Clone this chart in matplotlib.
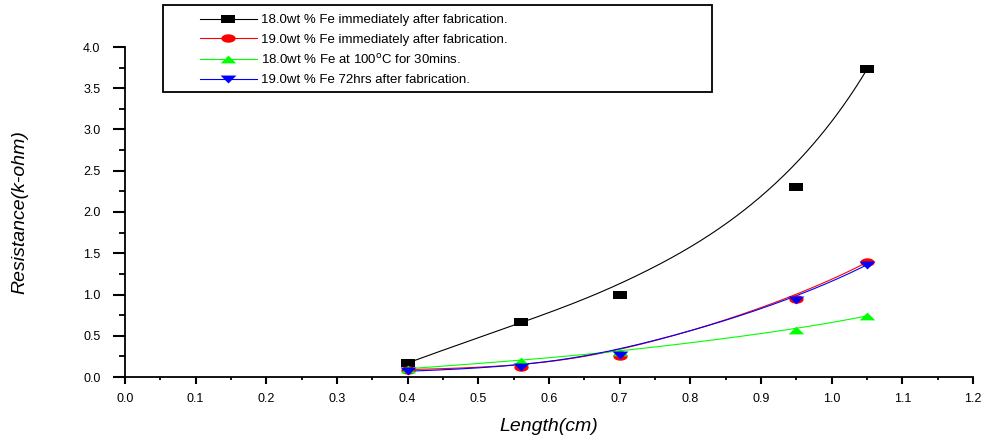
import numpy as np
import matplotlib
matplotlib.use("Agg")
import matplotlib.pyplot as plt
from matplotlib.path import Path
from matplotlib.patches import Rectangle
from matplotlib.ticker import MultipleLocator, FormatStrFormatter

plt.rcParams['font.family'] = ['Liberation Sans', 'DejaVu Sans']

# ---- data ----
length_cm = [0.40, 0.56, 0.70, 0.95, 1.05]
res_18_immediate = [0.17, 0.67, 1.00, 2.30, 3.73]
res_19_immediate = [0.09, 0.12, 0.25, 0.95, 1.39]
res_18_100C = [0.10, 0.20, 0.30, 0.57, 0.74]
res_19_72hrs = [0.07, 0.12, 0.27, 0.93, 1.36]

labels = [
    "18.0wt % Fe immediately after fabrication.",
    "19.0wt % Fe immediately after fabrication.",
    "18.0wt % Fe at 100$^{\\mathrm{o}}$C for 30mins.",
    "19.0wt % Fe 72hrs after fabrication.",
]
colors = ["#000000", "#ff0000", "#00ff00", "#0000ff"]
series = [res_18_immediate, res_19_immediate, res_18_100C, res_19_72hrs]


def bspline(xs, ys, n=300, k=3):
    P = np.column_stack([xs, ys]).astype(float)
    m = len(P)
    knots = np.concatenate([np.zeros(k), np.linspace(0, 1, m - k + 1), np.ones(k)])
    t = np.linspace(0, 1, n)
    N = np.zeros((n, len(knots) - 1))
    for i in range(len(knots) - 1):
        N[:, i] = (knots[i] <= t) & (t < knots[i + 1])
    N[t >= 1.0, m - 1] = 1.0
    for d in range(1, k + 1):
        Nn = np.zeros((n, len(knots) - 1 - d))
        for i in range(len(knots) - 1 - d):
            den1 = knots[i + d] - knots[i]
            den2 = knots[i + d + 1] - knots[i + 1]
            term = np.zeros(n)
            if den1 > 0:
                term += (t - knots[i]) / den1 * N[:, i]
            if den2 > 0:
                term += (knots[i + d + 1] - t) / den2 * N[:, i + 1]
            Nn[:, i] = term
        N = Nn
    C = N @ P
    return C[:, 0], C[:, 1]


# stretched marker shapes (wider than tall, as in the reference)
sq = Path([(-1.55, -1), (1.55, -1), (1.55, 1), (-1.55, 1), (-1.55, -1)],
          [Path.MOVETO, Path.LINETO, Path.LINETO, Path.LINETO, Path.CLOSEPOLY])
th = np.linspace(0, 2 * np.pi, 60)
ell = Path(np.column_stack([1.7 * np.cos(th), np.sin(th)]))
tri_up = Path([(-2, -1), (2, -1), (0, 1), (-2, -1)],
              [Path.MOVETO, Path.LINETO, Path.LINETO, Path.CLOSEPOLY])
tri_dn = Path([(-2, 1), (2, 1), (0, -1), (-2, 1)],
              [Path.MOVETO, Path.LINETO, Path.LINETO, Path.CLOSEPOLY])
markers = [sq, ell, tri_up, tri_dn]
msizes = [9.6, 10.3, 11.2, 11.4]

fig = plt.figure(figsize=(9.87, 4.40), dpi=100)
ax = fig.add_axes([125 / 987, 1 - 377 / 440, (973 - 125) / 987, (377 - 47) / 440])

handles = []
for ys, c, mk, ms, lab in zip(series, colors, markers, msizes, labels):
    cx, cy = bspline(length_cm, ys)
    ax.plot(cx, cy, color=c, lw=0.8, zorder=2)
    ax.plot(length_cm, ys, linestyle='none', marker=mk, markersize=ms,
            color=c, markeredgewidth=0, zorder=3)
    h, = ax.plot([], [], color=c, lw=0.8, marker=mk, markersize=ms,
                 markeredgewidth=0, label=lab)
    handles.append(h)

ax.set_xlim(0, 1.2)
ax.set_ylim(0, 4.0)
for s in ['top', 'right']:
    ax.spines[s].set_visible(False)
for s in ['left', 'bottom']:
    ax.spines[s].set_linewidth(1.3)

ax.xaxis.set_major_locator(MultipleLocator(0.1))
ax.xaxis.set_minor_locator(MultipleLocator(0.05))
ax.yaxis.set_major_locator(MultipleLocator(0.5))
ax.yaxis.set_minor_locator(MultipleLocator(0.25))
ax.xaxis.set_major_formatter(FormatStrFormatter('%.1f'))
ax.yaxis.set_major_formatter(FormatStrFormatter('%.1f'))
ax.tick_params(axis='x', which='major', direction='out', length=5, width=1.5,
               labelsize=9, pad=6.5)
ax.tick_params(axis='x', which='minor', direction='out', length=2.5, width=1.3)
ax.tick_params(axis='y', which='major', direction='out', length=8.6, width=1.5,
               labelsize=9, pad=9)
ax.tick_params(axis='y', which='minor', direction='out', length=4.3, width=1.3)

ax.set_xlabel("Length(cm)", fontsize=14, style='italic', va='center')
ax.set_ylabel("Resistance(k-ohm)", fontsize=14, style='italic', va='center')
ax.xaxis.set_label_coords(0.5, (377 - 426) / 330)
ax.yaxis.set_label_coords((20 - 125) / 848, 0.5)

# legend frame
fig.patches.append(Rectangle((163 / 987, 1 - 92 / 440), (712 - 163) / 987, 87 / 440,
                             transform=fig.transFigure, fill=False,
                             edgecolor='black', lw=1.3, zorder=5))
fig.legend(handles=handles, loc='upper left',
           bbox_to_anchor=(200 / 987, 1 - 14 / 440), frameon=False,
           fontsize=9.5, handlelength=4.3, handletextpad=0.3,
           labelspacing=0.55, numpoints=1, borderaxespad=0, borderpad=0)

fig.savefig("out.png", dpi=100)
